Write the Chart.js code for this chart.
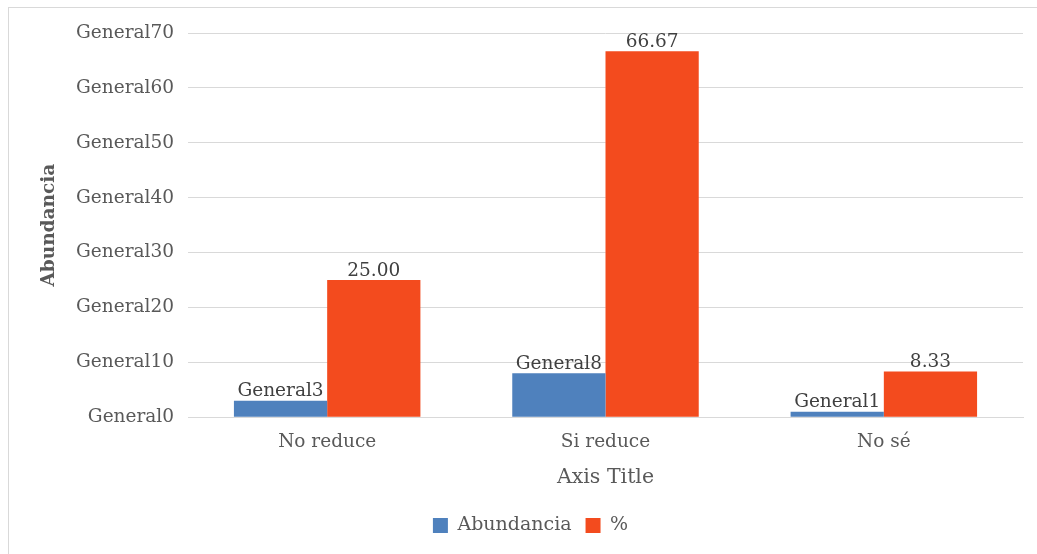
<!DOCTYPE html>
<html>
<head>
<meta charset="utf-8">
<script src="https://cdn.jsdelivr.net/npm/chart.js@4/dist/chart.umd.min.js"></script>
<style>
  html, body { margin: 0; padding: 0; background: #fff; overflow: hidden; }
  .frame {
    position: absolute; left: 8px; top: 7px;
    width: 1029px; height: 547px;
    border-top: 1px solid #d9d9d9; border-left: 1px solid #d9d9d9;
  }
  .frame canvas { display: block; }
</style>
</head>
<body>
<div class="frame"><canvas id="chart" width="1029" height="547"></canvas></div>
<script>
const categories = ['No reduce', 'Si reduce', 'No sé'];
const abundancia = [3, 8, 1];
const percent = [25.00, 66.67, 8.33];
const yTicks = [0, 10, 20, 30, 40, 50, 60, 70];

const FONT = '"DejaVu Serif", serif';
const TEXT = '#595959';

// ---- etiquetas encima de las barras ----
const valueLabels = {
  id: 'valueLabels',
  afterDatasetsDraw(chart) {
    const { ctx } = chart;
    ctx.save();
    ctx.font = '18.5px ' + FONT;
    ctx.fillStyle = '#404040';
    ctx.textAlign = 'center';
    ctx.textBaseline = 'bottom';
    chart.data.datasets.forEach((ds, di) => {
      chart.getDatasetMeta(di).data.forEach((bar, i) => {
        const v = ds.data[i];
        const txt = di === 0 ? 'General' + v : v.toFixed(2);
        ctx.fillText(txt, bar.x, bar.y);
      });
    });
    ctx.restore();
  },
};

new Chart(document.getElementById('chart').getContext('2d'), {
  type: 'bar',
  data: {
    labels: categories,
    datasets: [
      { label: 'Abundancia', data: abundancia, backgroundColor: '#4F81BD' },
      { label: '%', data: percent, backgroundColor: '#F34B1E' },
    ],
  },
  options: {
    responsive: false,
    animation: false,
    layout: { padding: { top: 10, right: 15, bottom: 10, left: 29 } },
    datasets: { bar: { barPercentage: 1.0, categoryPercentage: 0.67 } },
    scales: {
      x: {
        grid: { display: false },
        border: { color: '#d9d9d9' },
        ticks: { color: TEXT, font: { family: FONT, size: 18.5 }, padding: 6 },
        title: {
          display: true, text: 'Axis Title', color: TEXT,
          font: { family: FONT, size: 20.5 }, padding: { top: 6, bottom: 12 },
        },
      },
      y: {
        min: 0, max: 70,
        afterBuildTicks(scale) { scale.ticks = yTicks.map(v => ({ value: v })); },
        afterFit(scale) { scale.width = 150; },
        grid: { color: '#d9d9d9', drawTicks: false },
        border: { display: false },
        ticks: {
          color: TEXT, font: { family: FONT, size: 18.5 }, padding: 14,
          callback: (v) => 'General' + v,
        },
        title: {
          display: true, text: 'Abundancia', color: TEXT,
          font: { family: FONT, size: 18.5, weight: 'bold' }, padding: 0,
        },
      },
    },
    plugins: {
      legend: {
        position: 'bottom',
        labels: {
          color: TEXT, font: { family: FONT, size: 19 },
          boxWidth: 15, boxHeight: 15, padding: 14,
        },
      },
      tooltip: { enabled: false },
    },
  },
  plugins: [valueLabels],
});
</script>
</body>
</html>
